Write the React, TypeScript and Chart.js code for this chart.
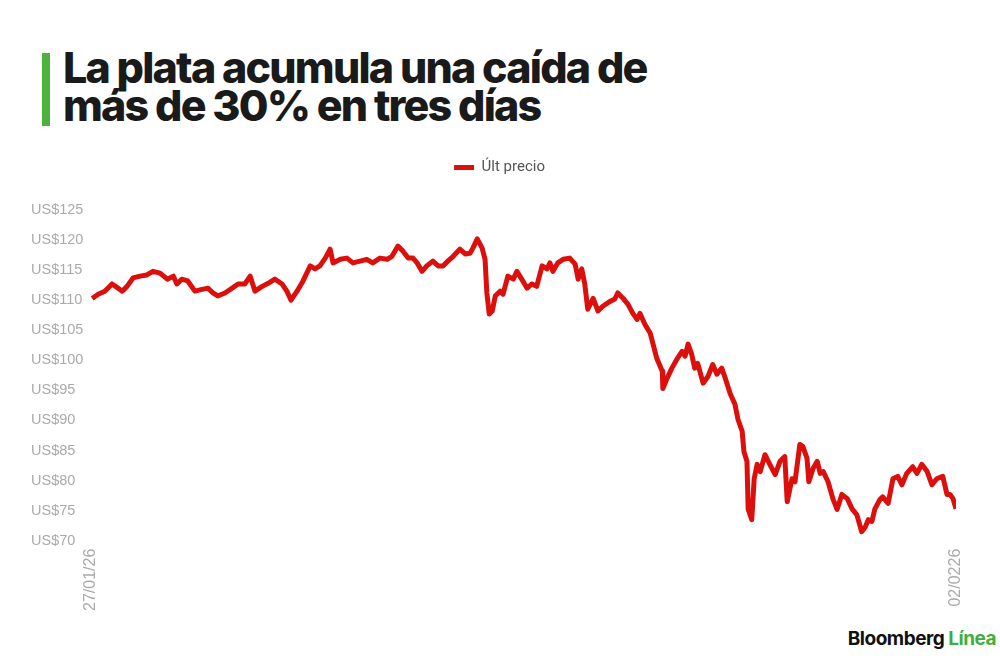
import React, { useEffect, useRef } from "react";
import { Chart, registerables } from "chart.js";

Chart.register(...registerables);

// Hours elapsed since 27/01/26 00:00
const hours: number[] = [
  0.2, 1.2, 2.3, 3.5, 4.5, 5.2, 6.0, 7.0, 8.2, 9.3, 10.3, 11.5, 12.7, 13.7, 14.3, 15.1, 16.1, 17.3, 18.5, 19.5,
  20.3, 21.1, 22.3, 23.5, 24.5, 25.6, 26.5, 27.3, 28.5, 29.5, 30.6, 31.8, 32.6, 33.3, 34.3, 35.3, 36.5, 37.3, 38.1, 39.0,
  39.8, 40.3, 41.5, 42.6, 43.6, 44.8, 45.9, 46.9, 48.1, 49.3, 50.1, 51.1, 51.9, 52.8, 53.6, 54.3, 55.1, 55.9, 56.9, 57.8,
  58.6, 59.4, 60.3, 61.4, 62.3, 63.1, 63.6, 64.3, 65.1, 65.6, 65.9, 66.3, 66.8, 67.3, 68.1, 68.6, 69.4, 70.3, 70.9, 71.7,
  72.6, 73.4, 74.2, 75.1, 75.9, 76.4, 76.9, 77.7, 78.6, 79.7, 80.6, 81.1, 81.7, 82.2, 82.7, 83.6, 84.4, 85.2, 86.4, 87.2,
  87.7, 88.6, 89.4, 90.2, 90.9, 91.4, 92.2, 93.1, 94.2, 95.1, 95.2, 95.9, 96.7, 97.6, 98.4, 98.9, 99.4, 100.0, 100.5, 101.0,
  101.9, 102.7, 103.5, 104.2, 105.0, 105.5, 106.4, 107.2, 107.7, 108.4, 108.7, 109.2, 109.4, 110.0, 110.4, 110.9, 111.4, 112.2, 113.0, 113.9,
  114.7, 115.5, 115.9, 116.7, 117.2, 118.0, 118.5, 119.2, 119.5, 120.2, 120.9, 121.4, 121.9, 122.7, 123.5, 124.2, 125.0, 125.9, 126.7, 127.5,
  128.3, 128.9, 129.4, 130.0, 130.5, 131.3, 131.8, 132.7, 133.5, 134.3, 135.0, 135.8, 136.8, 137.5, 138.3, 139.2, 140.0, 140.8, 141.8, 142.5,
  143.0, 143.5, 144.0,
];

// Último precio de la plata (US$/oz)
const prices: number[] = [
  110.3, 111.0, 111.5, 112.7, 112.0, 111.5, 112.3, 113.7, 114.0, 114.2, 114.8, 114.5, 113.5, 114.0, 112.7, 113.5, 113.2, 111.5, 111.8, 112.0,
  111.2, 110.7, 111.2, 112.0, 112.7, 112.7, 114.0, 111.5, 112.3, 112.8, 113.5, 112.7, 111.5, 110.0, 111.5, 113.2, 115.7, 115.2, 115.7, 117.0,
  118.5, 116.2, 116.8, 117.0, 116.2, 116.5, 116.8, 116.2, 117.0, 116.8, 117.3, 119.0, 118.2, 117.0, 117.0, 116.2, 114.8, 115.7, 116.5, 115.7,
  115.7, 116.5, 117.3, 118.5, 117.7, 117.8, 118.7, 120.2, 118.7, 116.8, 111.2, 107.7, 108.2, 110.7, 111.5, 111.0, 114.0, 113.5, 114.8, 113.5,
  112.0, 112.7, 112.3, 115.7, 115.2, 116.2, 114.8, 116.2, 116.8, 117.0, 116.0, 113.5, 115.2, 112.7, 108.5, 110.3, 108.2, 109.0, 109.8, 110.2,
  111.2, 110.3, 109.3, 107.8, 106.8, 107.8, 106.0, 104.5, 100.3, 98.2, 95.3, 97.0, 98.7, 100.3, 101.5, 100.7, 102.7, 101.0, 98.7, 99.5,
  96.2, 97.3, 99.3, 97.7, 98.7, 97.3, 94.5, 92.7, 90.2, 88.2, 84.8, 83.2, 75.3, 73.5, 80.3, 82.7, 81.5, 84.3, 82.7, 81.0,
  83.2, 84.0, 76.5, 80.3, 79.8, 86.0, 85.7, 83.7, 79.8, 82.0, 83.2, 81.2, 81.5, 79.8, 77.0, 75.2, 77.7, 77.0, 75.3, 74.3,
  71.5, 72.3, 73.5, 73.2, 75.3, 76.8, 77.3, 76.2, 80.3, 80.7, 79.3, 81.2, 82.3, 81.2, 82.7, 81.5, 79.3, 80.3, 80.7, 77.7,
  77.7, 77.0, 75.3,
];

const xTickValues: number[] = [0, 144];
const xTickLabels: string[] = ["27/01/26", "02/0226"];
const yMin = 70;
const yMax = 125;
const yStep = 5;
const seriesLabel = "Últ precio";

// Adds space under the legend and nudges it horizontally
const legendTweak = {
  id: "legendTweak",
  beforeLayout(chart: any) {
    const lg = chart.legend;
    if (lg && !lg.__patched) {
      const orig = lg.fit.bind(lg);
      lg.fit = function () {
        orig();
        this.height += 25;
      };
      lg.__patched = true;
    }
  },
  afterLayout(chart: any) {
    const lg = chart.legend;
    if (lg) {
      lg.left += 6;
      lg.right += 6;
    }
  },
};

export default function App() {
  const canvasRef = useRef<HTMLCanvasElement | null>(null);

  useEffect(() => {
    if (!canvasRef.current) return;
    const chart = new Chart(canvasRef.current, {
      type: "line",
      data: {
        datasets: [
          {
            label: seriesLabel,
            data: hours.map((h, i) => ({ x: h, y: prices[i] })),
            borderColor: "#db0f0b",
            backgroundColor: "#db0f0b",
            borderWidth: 5,
            borderJoinStyle: "round",
            pointRadius: 0,
            tension: 0,
          },
        ],
      },
      options: {
        animation: false,
        responsive: true,
        maintainAspectRatio: false,
        layout: { padding: { left: 11, right: 24, top: 0, bottom: 0 } },
        plugins: {
          legend: {
            display: true,
            position: "top",
            labels: {
              usePointStyle: true,
              pointStyle: "line",
              pointStyleWidth: 20,
              color: "#555",
              font: { family: "Roboto, 'Liberation Sans', sans-serif", size: 15 },
              padding: 12,
            },
          },
          tooltip: { enabled: false },
        },
        scales: {
          x: {
            type: "linear",
            min: xTickValues[0],
            max: xTickValues[xTickValues.length - 1],
            grid: { display: false },
            border: { display: false },
            afterBuildTicks: (scale: any) => {
              scale.ticks = xTickValues.map((v) => ({ value: v }));
            },
            ticks: {
              autoSkip: false,
              maxRotation: 90,
              minRotation: 90,
              padding: 0,
              color: "#aaa",
              font: { family: "'Liberation Sans', Arial, sans-serif", size: 16 },
              callback: (value: any) => {
                const i = xTickValues.indexOf(Number(value));
                return i >= 0 ? xTickLabels[i] : "";
              },
            },
          },
          y: {
            min: yMin,
            max: yMax,
            grid: { display: false },
            border: { display: false },
            afterFit: (scale: any) => {
              scale.width = 60;
            },
            ticks: {
              stepSize: yStep,
              crossAlign: "far",
              color: "#aaa",
              font: { family: "'Liberation Sans', Arial, sans-serif", size: 14.5 },
              callback: (value: any) => "US$" + value,
            },
          },
        },
      },
      plugins: [legendTweak],
    });
    return () => chart.destroy();
  }, []);

  return (
    <div
      style={{
        position: "absolute",
        left: 0,
        top: 0,
        width: 1000,
        height: 660,
        background: "#fff",
        overflow: "hidden",
      }}
    >
      <div
        style={{
          position: "absolute",
          left: 42,
          top: 53,
          width: 8,
          height: 73,
          background: "#4db33d",
        }}
      />
      <div
        style={{
          position: "absolute",
          left: 63,
          top: 48,
          fontFamily: "Inter, Roboto, sans-serif",
          fontWeight: 800,
          fontSize: 43,
          lineHeight: "38px",
          letterSpacing: "-1.8px",
          color: "#1a1a1a",
          whiteSpace: "nowrap",
        }}
      >
        La plata acumula una caída de
        <br />
        más de 30% en tres días
      </div>
      <div
        style={{
          position: "absolute",
          left: 20,
          top: 148,
          width: 960,
          height: 463,
        }}
      >
        <canvas ref={canvasRef} />
      </div>
      <div
        style={{
          position: "absolute",
          right: 4,
          top: 627,
          fontFamily: "Inter, Roboto, sans-serif",
          fontWeight: 700,
          fontSize: 19,
          letterSpacing: "-0.5px",
          color: "#111",
          whiteSpace: "nowrap",
        }}
      >
        Bloomberg <span style={{ color: "#3fae3a" }}>Línea</span>
      </div>
    </div>
  );
}
